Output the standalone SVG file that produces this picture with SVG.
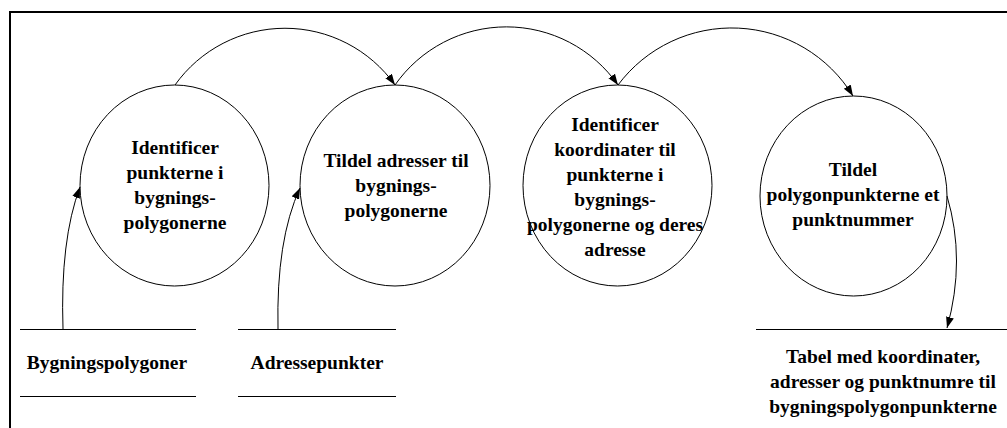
<svg xmlns="http://www.w3.org/2000/svg" width="1007" height="428" viewBox="0 0 1007 428">
  <style>
    .frame { fill: none; stroke: #000; stroke-width: 2; }
    .proc { fill: #fff; stroke: #000; stroke-width: 1; }
    .store { stroke: #000; stroke-width: 1; }
    .flow { fill: none; stroke: #000; stroke-width: 1; marker-end: url(#arrow); }
    text { font-family: "Liberation Serif", "Times New Roman", serif; font-weight: bold; font-size: 19.5px; fill: #000; text-anchor: middle; }
  </style>
  <defs>
    <marker id="arrow" markerUnits="userSpaceOnUse" markerWidth="12" markerHeight="10" refX="11" refY="4" orient="auto">
      <path d="M0,0 L11,4 L0,8 Z" fill="#000"/>
    </marker>
  </defs>

  <rect class="frame" x="10" y="12" width="1010" height="430"/>

  <!-- processes -->
  <g id="p1">
    <ellipse class="proc" cx="174.5" cy="185.5" rx="94.5" ry="100.5"/>
    <text x="175" y="154">Identificer</text>
    <text x="175" y="179">punkterne i</text>
    <text x="175" y="204">bygnings-</text>
    <text x="175" y="229">polygonerne</text>
  </g>
  <g id="p2">
    <ellipse class="proc" cx="395" cy="185.5" rx="95" ry="100.5"/>
    <text x="396" y="167">Tildel adresser til</text>
    <text x="396" y="192">bygnings-</text>
    <text x="396" y="217">polygonerne</text>
  </g>
  <g id="p3">
    <ellipse class="proc" cx="617.5" cy="185.5" rx="94.5" ry="100.5"/>
    <text x="615" y="131">Identificer</text>
    <text x="615" y="156">koordinater til</text>
    <text x="615" y="181">punkterne i</text>
    <text x="615" y="206">bygnings-</text>
    <text x="615" y="231">polygonerne og deres</text>
    <text x="615" y="256">adresse</text>
  </g>
  <g id="p4">
    <ellipse class="proc" cx="853.5" cy="196" rx="93.5" ry="100"/>
    <text x="853" y="176">Tildel</text>
    <text x="853" y="201">polygonpunkterne et</text>
    <text x="853" y="226">punktnummer</text>
  </g>

  <!-- data stores -->
  <g id="s1">
    <line class="store" x1="20" y1="329.5" x2="196" y2="329.5"/>
    <line class="store" x1="20" y1="396.5" x2="196" y2="396.5"/>
    <text x="107" y="369">Bygningspolygoner</text>
  </g>
  <g id="s2">
    <line class="store" x1="238" y1="329.5" x2="396" y2="329.5"/>
    <line class="store" x1="238" y1="396.5" x2="396" y2="396.5"/>
    <text x="317" y="369">Adressepunkter</text>
  </g>
  <g id="s3">
    <line class="store" x1="756" y1="329.5" x2="1007" y2="329.5"/>
    <text x="883" y="363">Tabel med koordinater,</text>
    <text x="883" y="388">adresser og punktnumre til</text>
    <text x="883" y="413">bygningspolygonpunkterne</text>
  </g>

  <!-- flows -->
  <g id="connectors">
    <path class="flow" d="M175,85 A135,135 0 0 1 395,85"/>
    <path class="flow" d="M395,85 A136,136 0 0 1 618,85"/>
    <path class="flow" d="M618,85 A142,142 0 0 1 853,96"/>
    <path class="flow" d="M63,329 Q60,240 80,187"/>
    <path class="flow" d="M278,329 Q276,240 300,188"/>
    <path class="flow" d="M947,196 Q966,260 947,328"/>
  </g>
</svg>
